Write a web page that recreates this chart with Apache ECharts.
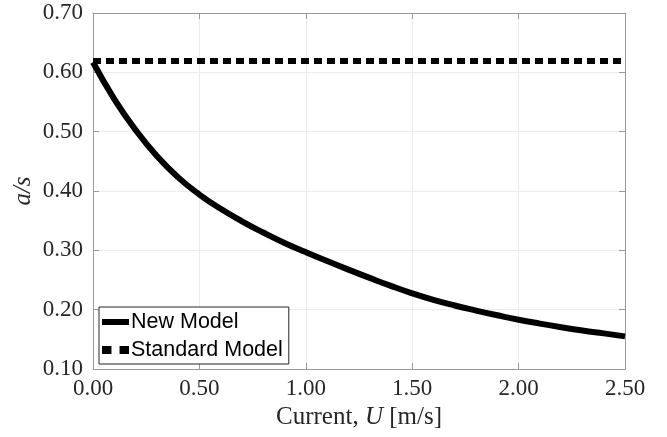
<!DOCTYPE html>
<html>
<head>
<meta charset="utf-8">
<script src="https://cdn.jsdelivr.net/npm/echarts@6/dist/echarts.min.js"></script>
<style>html,body{margin:0;padding:0;background:#fff}#c{width:667px;height:437px}</style>
</head>
<body>
<div id="c"></div>
<script>
const currentU = [0.0,0.1,0.2,0.3,0.4,0.5,0.6,0.7,0.8,0.9,1.0,1.1,1.2,1.3,1.4,1.5,1.6,1.7,1.8,1.9,2.0,2.1,2.2,2.3,2.4,2.5];
const newModel = [0.617,0.555,0.503,0.459,0.423,0.394,0.370,0.349,0.330,0.3125,0.297,0.282,0.2675,0.2535,0.240,0.2275,0.2165,0.207,0.1985,0.1905,0.183,0.1765,0.1705,0.165,0.160,0.155];
const standardModelU = [0.0, 2.5];
const standardModel = [0.619, 0.619];
const seriesNames = ['New Model', 'Standard Model'];

const serif = 'Liberation Serif';
const tickColor = '#262626';
const axisColor = '#9a9a9a';

const chart = echarts.init(document.getElementById('c'), null, {renderer: 'canvas'});
chart.setOption({
  animation: false,
  backgroundColor: '#fff',
  grid: {left: 93, right: 42, top: 13, bottom: 68, containLabel: false},
  xAxis: [{
    type: 'value', min: 0, max: 2.5, interval: 0.5,
    name: '{n|Current, }{i|U}{n| [m/s]}',
    nameLocation: 'middle', nameGap: 29,
    nameTextStyle: {rich: {n: {fontFamily: serif, fontSize: 25, color: tickColor}, i: {fontFamily: serif, fontSize: 25, fontStyle: 'italic', color: tickColor}}},
    axisLine: {show: true, onZero: false, lineStyle: {color: axisColor, width: 1}},
    axisTick: {show: true, inside: true, length: 6, lineStyle: {color: axisColor}},
    axisLabel: {fontFamily: serif, fontSize: 23, color: tickColor, margin: 8, formatter: v => v.toFixed(2)},
    splitLine: {show: true, lineStyle: {color: '#ebebeb', width: 1}}
  }, {
    type: 'value', min: 0, max: 2.5, interval: 0.5, position: 'top',
    axisLine: {show: true, onZero: false, lineStyle: {color: axisColor, width: 1}},
    axisTick: {show: true, inside: true, length: 6, lineStyle: {color: axisColor}},
    axisLabel: {show: false}, splitLine: {show: false}
  }],
  yAxis: [{
    type: 'value', min: 0.1, max: 0.7, interval: 0.1,
    name: 'a/s', nameLocation: 'middle', nameGap: 57, nameRotate: 90, nameMoveOverlap: false,
    nameTextStyle: {fontFamily: serif, fontSize: 25, fontStyle: 'italic', color: tickColor},
    axisLine: {show: true, onZero: false, lineStyle: {color: axisColor, width: 1}},
    axisTick: {show: true, inside: true, length: 6, lineStyle: {color: axisColor}},
    axisLabel: {fontFamily: serif, fontSize: 23, color: tickColor, margin: 10, formatter: v => v.toFixed(2)},
    splitLine: {show: true, lineStyle: {color: '#ebebeb', width: 1}}
  }, {
    type: 'value', min: 0.1, max: 0.7, interval: 0.1, position: 'right',
    axisLine: {show: true, onZero: false, lineStyle: {color: axisColor, width: 1}},
    axisTick: {show: true, inside: true, length: 6, lineStyle: {color: axisColor}},
    axisLabel: {show: false}, splitLine: {show: false}
  }],
  legend: {
    orient: 'vertical', left: 99, top: 307,
    padding: [4, 6, 3, 3], itemGap: 6, itemWidth: 27, itemHeight: 14,
    backgroundColor: '#fff', borderColor: '#262626', borderWidth: 1, borderRadius: 0,
    textStyle: {fontFamily: 'Liberation Sans', fontSize: 21.5, color: '#000', lineHeight: 21, padding: [0,0,0,-3]},
    data: [
      {name: seriesNames[0], icon: 'path://M0,0 L27,0 L27,6 L0,6 Z', itemStyle: {color: '#000'}},
      {name: seriesNames[1], icon: 'path://M0,0 L7,0 L7,6 L0,6 Z M13,0 L20,0 L20,6 L13,6 Z', itemStyle: {color: '#000'}}
    ]
  },
  series: [{
    name: seriesNames[0], type: 'line', smooth: 0.5, symbol: 'none',
    data: currentU.map((u, i) => [u, newModel[i]]),
    lineStyle: {color: '#000', width: 6}, itemStyle: {color: '#000'}, z: 3
  }, {
    name: seriesNames[1], type: 'line', symbol: 'none',
    data: standardModelU.map((u, i) => [u, standardModel[i]]),
    lineStyle: {color: '#000', width: 6, type: [8, 5], cap: 'butt'}, itemStyle: {color: '#000'}, z: 2
  }]
});
</script>
</body>
</html>
